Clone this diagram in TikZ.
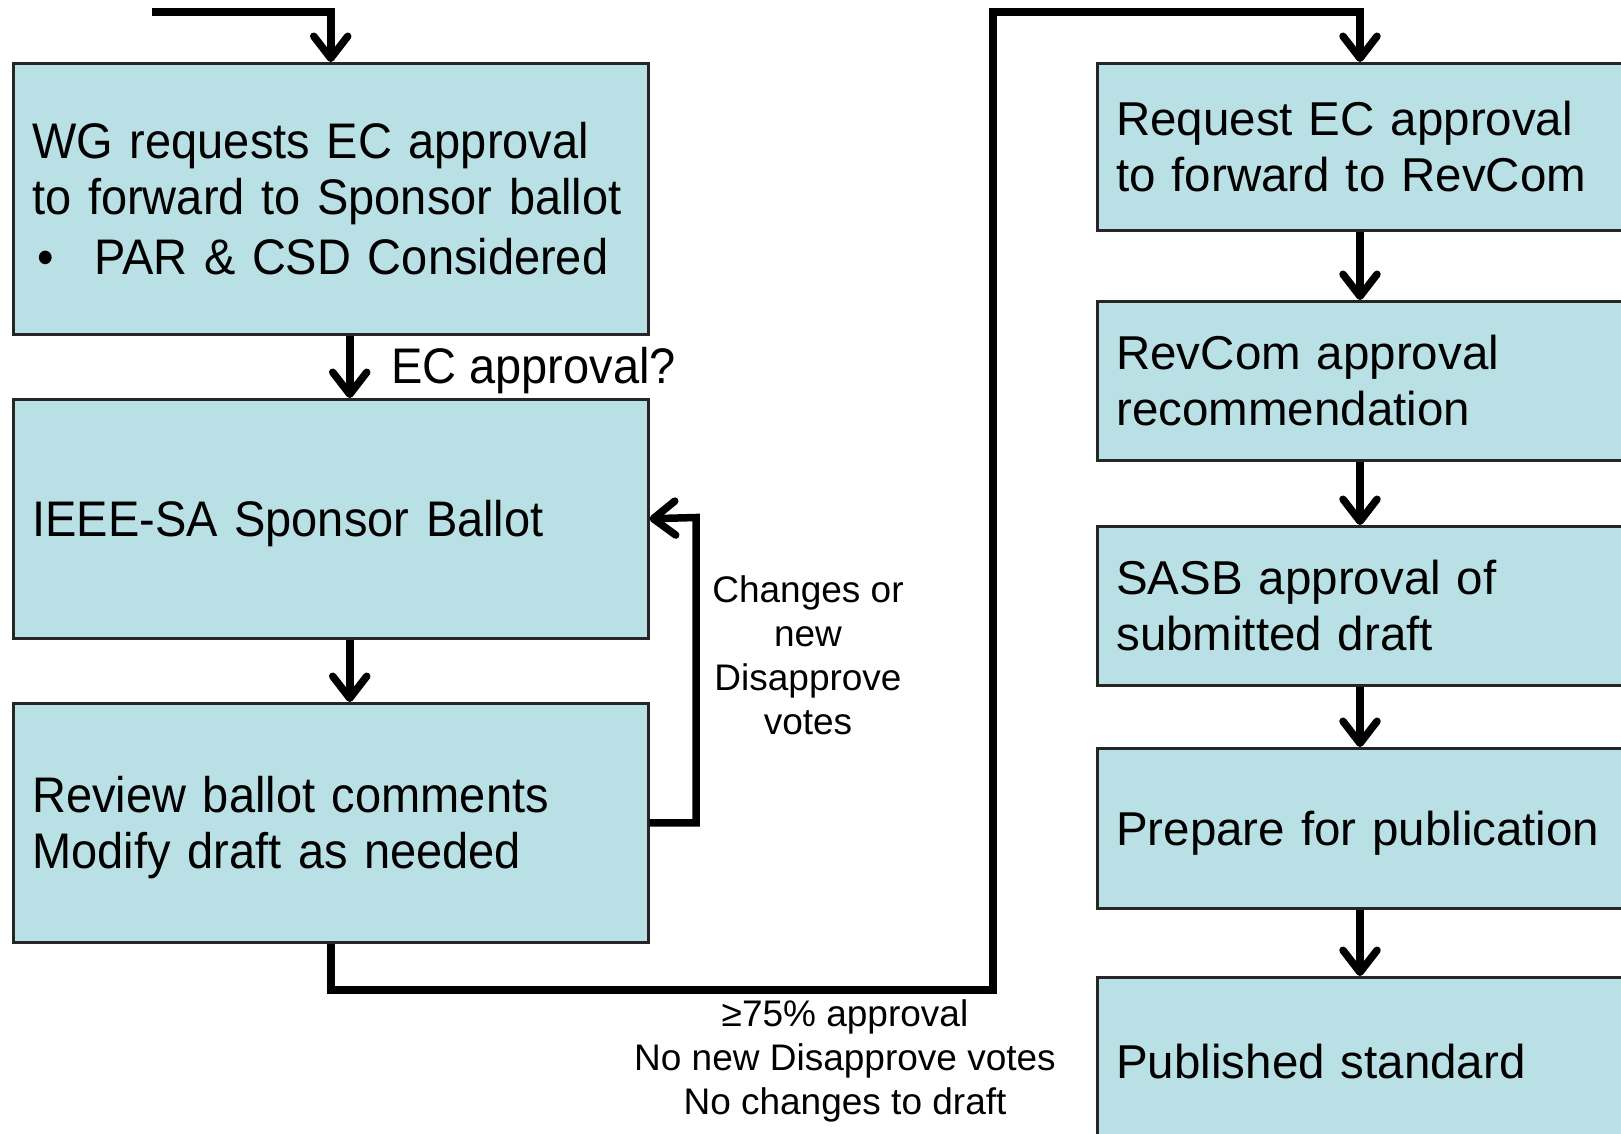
\documentclass[tikz,border=0pt]{standalone}
\usepackage{fontspec}
\setmainfont{Liberation Sans}
\newfontfamily\leftfont[FakeStretch=0.94]{Liberation Sans}
\usetikzlibrary{arrows.meta}
\definecolor{boxfill}{RGB}{185,224,228}
\tikzset{stage/.style={
    rectangle, draw=black!85, line width=2.5pt, fill=boxfill,
    anchor=north west, inner xsep=19pt, inner ysep=0pt,
    text width=597pt, minimum height=#1, align=left}
}
\tikzset{leftbox/.style={font=\leftfont\fontsize{50}{56}\selectfont},
    rightbox/.style={font=\fontsize{47.5}{56}\selectfont},
    note/.style={font=\fontsize{37}{44}\selectfont, align=center, inner sep=0pt},
    flow/.style={line width=7.5pt,
    -{Straight Barb[length=22pt,width=34pt,line cap=round,line join=round]}}
}

\begin{document}
\begin{tikzpicture}[x=1pt, y=-1pt]
        \useasboundingbox (0,0) rectangle (1621,1133);
        \clip (0,0) rectangle (1621,1133);

        %left column
        \node[stage=271pt, leftbox](wg) at (12,62){WG requests EC approval\\to forward to Sponsor ballot\\[4pt]\makebox[62pt][l]{\hspace{5pt}\textbullet}PAR \& CSD Considered};
        \node[stage=239pt, leftbox, text depth=0pt](ballot) at (12,398){IEEE-SA Sponsor Ballot};
        \node[stage=239pt, leftbox](review) at (12,702){\rule{0pt}{46pt}Review ballot comments\\Modify draft as needed};

        %right column (runs off the page)
        \node[stage=167pt, rightbox](req) at (1096,62){Request EC approval\\to forward to RevCom};
        \node[stage=159pt, rightbox](revcom) at (1096,300){RevCom approval\\recommendation};
        \node[stage=159pt, rightbox](sasb) at (1096,525){SASB approval of\\submitted draft};
        \node[stage=160pt, rightbox, text depth=-10pt](prep) at (1096,747){Prepare for publication};
        \node[stage=168pt, rightbox](pub) at (1096,976){Published standard};

        %labels
        \node[leftbox, anchor=base west, inner sep=0pt](ecq) at (391,383){EC approval?};
        \node[note](redo) at (808,655){Changes or\\new\\Disapprove\\votes};
        \node[note](pass) at (845,1061){≥75\% approval\\No new Disapprove votes\\No changes to draft};

        %connectors
        \coordinate(start) at (152,12);
        \coordinate(low) at (993,990);
        \coordinate(rtop) at (1360,12);
        \coordinate(loop) at (696,517.5);

        \draw[flow] (start) -| (wg.north);
        \draw[flow] ([xshift=19pt]wg.south) -- ([xshift=19pt]ballot.north);
        \draw[flow] ([xshift=19pt]ballot.south) -- ([xshift=19pt]review.north);
        \draw[flow] (review.east) -| (loop) -- (ballot.east);
        \draw[flow] (review.south) |- (low) |- (rtop) -- (rtop |- req.north);
        \foreach \a/\b in {req/revcom, revcom/sasb, sasb/prep, prep/pub}
            \draw[flow] (rtop |- \a.south) -- (rtop |- \b.north);
\end{tikzpicture}
\end{document}
